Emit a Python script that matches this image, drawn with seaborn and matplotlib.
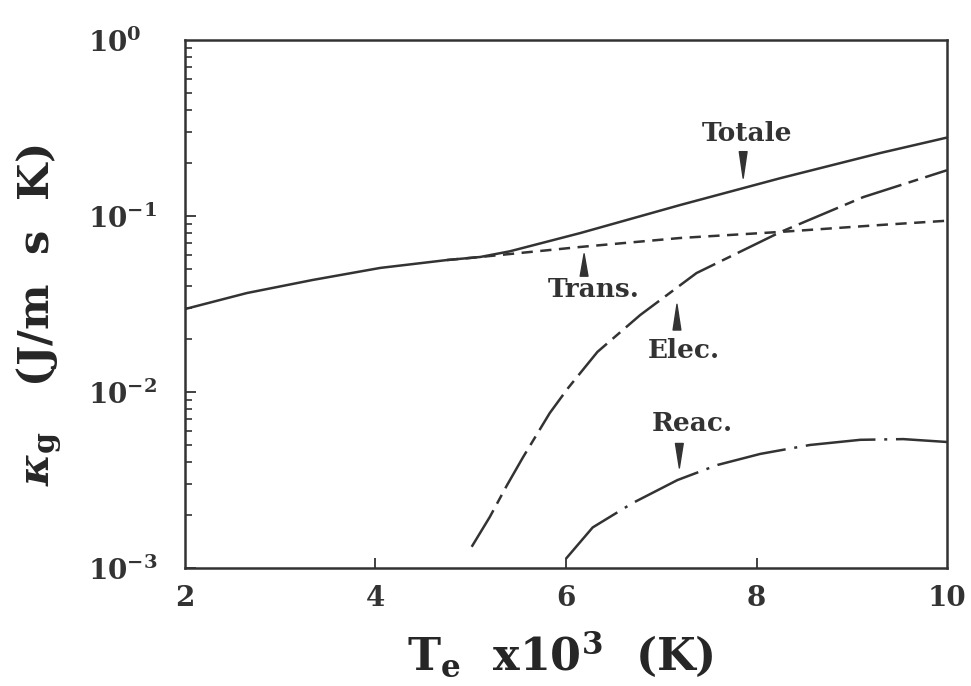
import numpy as np
import matplotlib
matplotlib.use("Agg")
import matplotlib.pyplot as plt
import seaborn as sns
from matplotlib.ticker import LogLocator, NullFormatter, FixedLocator

# =========================
# Data, Te in 10^3 K, kappa in J/(m s K)
# =========================
te_totale = [2.0, 2.65, 3.34, 4.05, 4.75, 5.1, 5.41, 6.15, 7.2, 8.25, 9.3, 10.0]
k_totale = [0.0296, 0.0365, 0.0433, 0.0507, 0.0562, 0.0585, 0.0630, 0.080, 0.1155, 0.164, 0.228, 0.279]

te_trans = [4.75, 5.1, 6.15, 7.2, 8.25, 9.3, 10.0]
k_trans = [0.0562, 0.0585, 0.0667, 0.075, 0.0812, 0.0889, 0.094]

te_elec = [5.01, 5.20, 5.38, 5.55, 5.83, 6.02, 6.33, 6.78, 7.37, 8.25, 9.12, 10.0]
k_elec = [0.00132, 0.00195, 0.00295, 0.00427, 0.0076, 0.0105, 0.0169, 0.0274, 0.0474, 0.081, 0.128, 0.182]

te_reac = [6.0, 6.28, 6.70, 7.17, 7.59, 8.04, 8.56, 9.09, 9.54, 10.0]
k_reac = [0.00113, 0.0017, 0.00234, 0.00316, 0.00385, 0.00445, 0.0050, 0.00535, 0.0054, 0.0052]

xticks = [2, 4, 6, 8, 10]
yticks = [1e-3, 1e-2, 1e-1, 1e0]
ytick_labels = [r"$\mathbf{10^{-3}}$", r"$\mathbf{10^{-2}}$", r"$\mathbf{10^{-1}}$", r"$\mathbf{10^{0}}$"]

# label text, text position, arrow base, arrow tip
labels = [
    ("Totale", (7.90, 0.296), (7.86, 0.232), (7.86, 0.164)),
    ("Trans.", (6.29, 0.038), (6.19, 0.0455), (6.19, 0.061)),
    ("Elec.", (7.24, 0.0173), (7.165, 0.0225), (7.165, 0.0315)),
    ("Reac.", (7.33, 0.00658), (7.19, 0.0051), (7.19, 0.0037)),
]

ink = "#333333"

# =========================
# Style
# =========================
sns.set_style("ticks")
plt.rcParams["font.family"] = ["DejaVu Serif"]
plt.rcParams["font.weight"] = "bold"
plt.rcParams["mathtext.fontset"] = "dejavuserif"
plt.rcParams["mathtext.default"] = "it"
plt.rcParams["axes.edgecolor"] = ink
plt.rcParams["text.color"] = ink
plt.rcParams["xtick.color"] = ink
plt.rcParams["ytick.color"] = ink

fig = plt.figure(figsize=(9.71, 6.86), dpi=100)
ax = fig.add_axes([0.1905, 0.172, 0.7848, 0.7697])

# =========================
# Curves
# =========================
lw = 1.8
sns.lineplot(x=te_totale, y=k_totale, ax=ax, color=ink, lw=lw, linestyle="-")
sns.lineplot(x=te_trans, y=k_trans, ax=ax, color=ink, lw=lw, linestyle=(0, (4.5, 3)))
sns.lineplot(x=te_elec, y=k_elec, ax=ax, color=ink, lw=lw, linestyle=(0, (17, 3, 4, 3)))
sns.lineplot(x=te_reac, y=k_reac, ax=ax, color=ink, lw=lw, linestyle=(0, (28, 3.5, 1.2, 3.5)))

# =========================
# Axes
# =========================
ax.set_yscale("log")
ax.set_xlim(2, 10)
ax.set_ylim(1e-3, 1)

ax.set_xticks(xticks)
ax.set_xticklabels([str(t) for t in xticks], fontsize=20, fontweight="bold")
ax.set_yticks(yticks)
ax.set_yticklabels(ytick_labels, fontsize=20, ha="left")
ax.yaxis.set_minor_locator(LogLocator(base=10, subs=np.arange(2, 10)))
ax.yaxis.set_minor_formatter(NullFormatter())
ax.xaxis.set_minor_locator(FixedLocator([]))

ax.tick_params(axis="x", which="major", direction="in", length=7, width=1.3, pad=12)
ax.tick_params(axis="y", which="major", direction="in", length=8, width=1.3, pad=70)
ax.tick_params(axis="y", which="minor", direction="in", length=5, width=1.2)
# the 2 and 10 marks sit on the corners, hide those ticks
for t in ax.xaxis.get_major_ticks():
    if t.get_loc() in (2, 10):
        t.tick1line.set_visible(False)
ax.yaxis.get_major_ticks()[-1].tick1line.set_visible(False)

for s in ax.spines.values():
    s.set_linewidth(1.8)
    s.set_color(ink)

ax.set_xlabel(r"T$_\mathbf{e}$  x10$^\mathbf{3}$  (K)", fontsize=32, fontweight="bold")
ax.xaxis.set_label_coords(0.493, -0.115)
ax.set_ylabel(r"$\kappa_\mathbf{g}$   (J/m  s  K)", fontsize=31, fontweight="bold")
ax.yaxis.set_label_coords(-0.160, 0.479)

# =========================
# Curve labels with wedge pointers
# =========================
for name, txt, base, tip in labels:
    ax.text(txt[0], txt[1], name, fontsize=19, fontweight="bold", ha="center", va="center")
    ax.annotate("", xy=tip, xytext=base,
                arrowprops=dict(arrowstyle="wedge,tail_width=0.28,shrink_factor=0.5",
                                color=ink, mutation_scale=20, shrinkA=0, shrinkB=0))

fig.savefig("out.png", dpi=100, facecolor="white")
